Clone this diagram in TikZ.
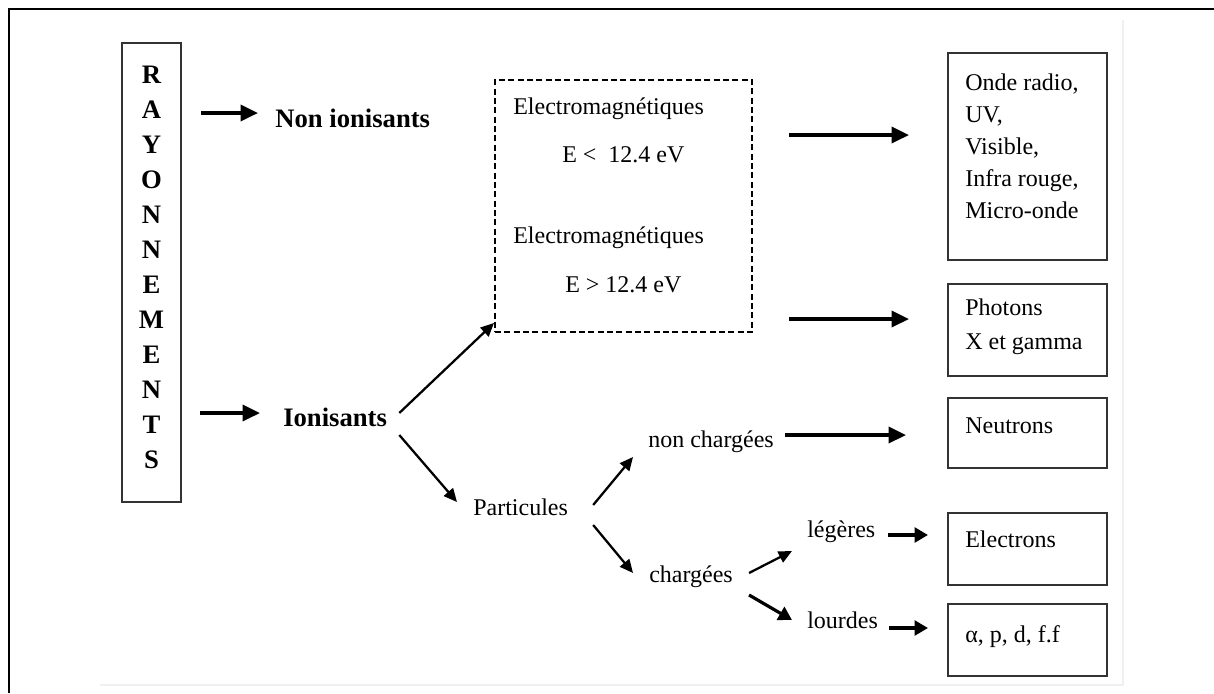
\documentclass[tikz,border=0pt]{standalone}
\usepackage{fontspec}
\setmainfont{Liberation Serif}
\usetikzlibrary{arrows.meta,calc,fit}
\begin{document}
\begin{tikzpicture}[x=0.75pt,y=-0.75pt,
  txt/.style={anchor=base west,inner sep=0pt,font=\fontsize{18}{24}\selectfont},
  btxt/.style={anchor=base west,inner sep=0pt,font=\fontsize{20}{26}\selectfont\bfseries},
  letter/.style={inner sep=0pt,font=\fontsize{20}{26}\selectfont\bfseries},
  box/.style={draw=black!80,line width=1.5pt,inner sep=0pt},
  dbox/.style={draw=black,line width=1.5pt,inner sep=0pt,dash pattern=on 4.5pt off 2.5pt},
  harr/.style={line width=2.6pt,-{Triangle[length=13pt,width=12pt]}},
  darr/.style={line width=1.7pt,-{Triangle[length=10pt,width=9pt]}},
  sarr/.style={line width=2.4pt,-{Triangle[length=10pt,width=11pt]}},
  faint/.style={draw=black!6,line width=1pt}
]
\useasboundingbox (0,0) rectangle (1214,693);
% outer frame and faint page edges
\draw[line width=1.5pt] (9,693) -- (9,9) -- (1214,9);
\draw[faint] (100,685) -- (1123,685) -- (1123,20);

% RAYONNEMENTS column
\node[box, fit={(122,43) (181,502)}] (ray) {};
\foreach \l [count=\i from 0] in {R,A,Y,O,N,N,E,M,E,N,T,S}
  \node[letter] (r\i) at (151.5,{75+35*\i}) {\l};

% first level
\node[btxt] (nonion) at (275,127) {Non ionisants};
\node[btxt] (ion) at (283,426) {Ionisants};

% dashed box
\node[dbox, fit={(495,80) (752,332)}] (dash) {};
\node[txt] (em1) at (513,114) {Electromagnétiques};
\node[txt] (e1) at (562,162) {E <\ \ 12.4 eV};
\node[txt] (em2) at (513,243) {Electromagnétiques};
\node[txt] (e2) at (565,292) {E > 12.4 eV};

% particles
\node[txt] (part) at (473,515) {Particules};
\node[txt] (nonch) at (648,447) {non chargées};
\node[txt] (charg) at (649,582) {chargées};
\node[txt] (leg) at (807,537) {légères};
\node[txt] (lourd) at (807,628) {lourdes};

% result boxes
\node[box, fit={(948,53) (1107,260)}] (box1) {};
\node[txt] (b1l0) at (965,90) {Onde radio,};
\node[txt] (b1l1) at (965,122) {UV,};
\node[txt] (b1l2) at (965,154) {Visible,};
\node[txt] (b1l3) at (965,186) {Infra rouge,};
\node[txt] (b1l4) at (965,218) {Micro-onde};
\node[box, fit={(948,284) (1107,376)}] (box2) {};
\node[txt] (b2l0) at (965,315) {Photons};
\node[txt] (b2l1) at (965,349) {X et gamma};
\node[box, fit={(948,398) (1107,468)}] (neut) {};
\node[txt] (neutt) at (965,433) {Neutrons};
\node[box, fit={(948,513) (1107,585)}] (elec) {};
\node[txt] (elect) at (965,547) {Electrons};
\node[box, fit={(948,604) (1107,676)}] (alpha) {};
\node[txt] (alphat) at (965,642) {α, p, d, f.f};

% connectors
\coordinate (a1e) at ($(nonion.base west)+(-17,-14)$);
\draw[harr] ($(ray.east|-a1e)+(19,0)$) -- (a1e);
\coordinate (a2e) at ($(ion.base west)+(-23,-13)$);
\draw[harr] ($(ray.east|-a2e)+(18,0)$) -- (a2e);
\draw[darr] ($(ion.base east)+(12,-13)$) -- ($(dash.south west)+(0,-10)$);
\draw[darr] ($(ion.base east)+(12,9)$) -- ($(part.base west)+(-16,-13)$);
\coordinate (a5e) at ($(box1.west)+(-38,-21.5)$);
\draw[harr] ($(dash.east|-a5e)+(36,0)$) -- (a5e);
\coordinate (a6e) at ($(box2.west)+(-38,-11)$);
\draw[harr] ($(dash.east|-a6e)+(36,0)$) -- (a6e);
\draw[darr] ($(part.base east)+(25,-10)$) -- ($(nonch.base west)+(-15,10)$);
\draw[darr] ($(part.base east)+(25,10)$) -- ($(charg.base west)+(-16,-9)$);
\coordinate (a9e) at ($(neut.west)+(-41,2)$);
\draw[harr] ($(nonch.base east|-a9e)+(11,0)$) -- (a9e);
\draw[darr] ($(charg.base east)+(16,-9)$) -- ($(leg.base west)+(-15,14)$);
\draw[sarr] ($(charg.base east)+(16,13)$) -- ($(lourd.base west)+(-15,-8)$);
\coordinate (a12e) at ($(elec.west)+(-19,-14)$);
\draw[sarr] ($(leg.base east|-a12e)+(12,0)$) -- (a12e);
\coordinate (a13e) at ($(alpha.west)+(-19,-12)$);
\draw[sarr] ($(lourd.base east|-a13e)+(11,0)$) -- (a13e);
\end{tikzpicture}
\end{document}
